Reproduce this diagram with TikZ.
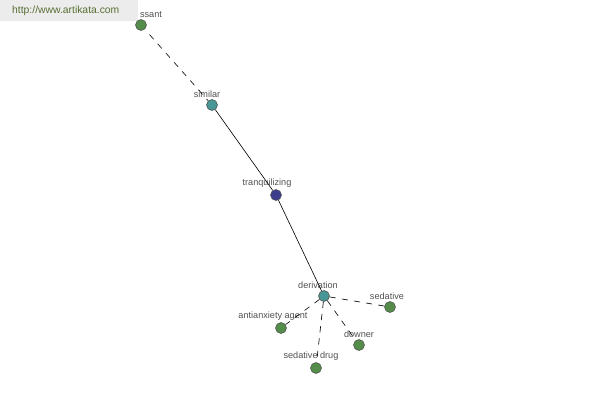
\documentclass[tikz,border=0pt]{standalone}
\usepackage{fontspec}
\setmainfont{Liberation Sans}
\usetikzlibrary{positioning}
\definecolor{WordGreen}{RGB}{84,140,74}
\definecolor{WordTeal}{RGB}{72,150,150}
\definecolor{WordNavy}{RGB}{60,62,140}
\definecolor{LabelGray}{RGB}{80,80,80}
\definecolor{MarkGreen}{RGB}{88,110,50}
\definecolor{MarkGray}{RGB}{236,236,236}

\begin{document}
\begin{tikzpicture}[
x=0.02cm,y=-0.02cm,
word/.style 2 args={circle,draw=black!70,line width=0.3pt,inner sep=0pt,minimum size=0.22cm,
label={[text=LabelGray,font=\fontsize{5.2}{6}\selectfont,inner sep=1pt,xshift=#2*0.02cm]above:#1}},
leaf/.style 2 args={word={#1}{#2},fill=WordGreen},
link/.style 2 args={word={#1}{#2},fill=WordTeal},
head/.style 2 args={word={#1}{#2},fill=WordNavy},
solidedge/.style={line width=0.35pt},
dashedge/.style={line width=0.35pt,dashed,dash pattern=on 3.5pt off 3.5pt}
]
\useasboundingbox (0,0) rectangle (600,400);
\fill[MarkGray] (0,0) rectangle (138,21);
\node[text=MarkGreen,font=\fontsize{5.9}{7}\selectfont,anchor=west] (mark) at (6,11) {http://www.artikata.com};

\node[leaf={ssant}{10}] (ssant) at (141,25) {};
\node[link={similar}{-5}] (similar) at (212,105) {};
\node[head={tranquilizing}{-9}] (tranq) at (276,195) {};
\node[link={derivation}{-6}] (deriv) at (324,296) {};
\node[leaf={sedative}{-3}] (sed) at (390,307) {};
\node[leaf={antianxiety agent}{-8}] (anti) at (281,328) {};
\node[leaf={downer}{0}] (down) at (359,345) {};
\node[leaf={sedative drug}{-5}] (seddrug) at (316,368) {};

\draw[dashedge,shorten <=4pt] (ssant)--(similar);
\draw[solidedge] (similar)--(tranq); \draw[solidedge] (tranq)--(deriv);
\draw[dashedge] (deriv)--(sed); \draw[dashedge] (deriv)--(anti);
\draw[dashedge] (deriv)--(down); \draw[dashedge] (deriv)--(seddrug);
\end{tikzpicture}
\end{document}
